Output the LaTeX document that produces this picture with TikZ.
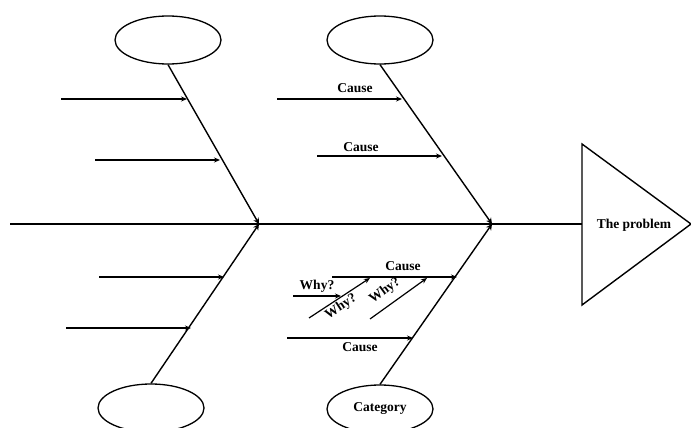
\documentclass[tikz,border=0pt]{standalone}
\usepackage{fontspec}
\setmainfont{Liberation Serif}
\usetikzlibrary{arrows.meta,shapes.geometric}
\begin{document}
\begin{tikzpicture}[x=1pt,y=-1pt,
  spine/.style={line width=2pt},
  bone/.style={line width=1.4pt,-{Stealth[length=6pt,width=6pt]}},
  causearrow/.style={line width=1.2pt,-{Stealth[length=6pt,width=5pt]}},
  head/.style={draw,ellipse,line width=1.3pt,minimum width=106pt,minimum height=48pt,inner sep=0pt},
  lbl/.style={font=\fontsize{13.5}{15}\selectfont\bfseries,inner sep=0pt}]
\useasboundingbox (0,0) rectangle (691,428);
% heads
\node[head] (E1) at (168,40) {};
\node[head] (E2) at (380,40) {};
\node[head] (E3) at (151,408) {};
\node[head,lbl] (E4) at (380,409) {Category};
% junctions and spine
\coordinate (J1) at (259,224);
\coordinate (J2) at (492,224);
\coordinate (S0) at (10,224);
\coordinate (S1) at (582,224);
\coordinate (T1) at (582,144);
\coordinate (T2) at (582,305);
\coordinate (T3) at (691,224);
\draw[spine] (S0) -- (S1);
\draw[line width=1.4pt] (T1) -- (T3) -- (T2) -- cycle;
\node[lbl] (P) at (634,225) {The problem};
% bones
\draw[bone] (E1.south) -- (J1);
\draw[bone] (E3.north) -- (J1);
\draw[bone] (E2.south) -- (J2);
\draw[bone] (E4.north) -- (J2);
% cause arrows
\coordinate (a1) at (61,99);   \coordinate (b1) at (187,99);
\coordinate (a2) at (95,160);  \coordinate (b2) at (220,160);
\coordinate (a3) at (99,277);  \coordinate (b3) at (224,277);
\coordinate (a4) at (66,328);  \coordinate (b4) at (191,328);
\coordinate (a5) at (277,99);  \coordinate (b5) at (402,99);
\coordinate (a6) at (317,156); \coordinate (b6) at (442,156);
\coordinate (a7) at (332,277); \coordinate (b7) at (457,277);
\coordinate (a8) at (287,338); \coordinate (b8) at (413,338);
\foreach \i in {1,...,8} \draw[causearrow] (a\i) -- (b\i);
% why arrows
\coordinate (w1a) at (293,296); \coordinate (w1b) at (341,296);
\coordinate (w2a) at (309,318); \coordinate (w2b) at (370,278);
\coordinate (w3a) at (370,319); \coordinate (w3b) at (427,278);
\draw[causearrow] (w1a) -- (w1b);
\draw[causearrow] (w2a) -- (w2b);
\draw[causearrow] (w3a) -- (w3b);
% labels
\node[lbl] (c5) at (355,88) {Cause};
\node[lbl] (c6) at (361,147) {Cause};
\node[lbl] (c7) at (403,266) {Cause};
\node[lbl] (c8) at (360,347) {Cause};
\node[lbl] (y1) at (317,286) {Why?};
\node[lbl,rotate=33] (y2) at (341,307) {Why?};
\node[lbl,rotate=36] (y3) at (385,291) {Why?};
\end{tikzpicture}
\end{document}
